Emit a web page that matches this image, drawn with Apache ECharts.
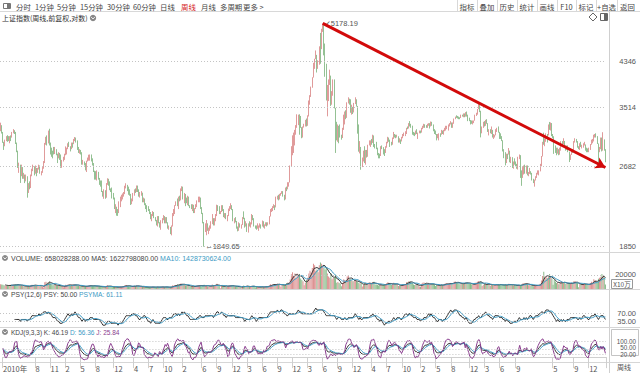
<!DOCTYPE html>
<html><head><meta charset="utf-8">
<script src="https://cdn.jsdelivr.net/npm/echarts@6/dist/echarts.min.js"></script>
<style>html,body{margin:0;padding:0;background:#fff;}#c{width:640px;height:373px;}</style>
</head><body><div id="c"></div>
<script>
// ---------------- DATA ----------------
const firstWeek = '2010-01-15';
const closedWeeks = ['2010-02-19','2011-10-07','2012-01-27','2012-10-05','2013-02-15','2016-02-12','2016-10-07','2017-10-06','2018-10-05','2019-02-08','2020-01-31'];
const firstOpen = 3196;
const closes = [
3224,3128,2989,2939,3018,3051,3031,3014,3067,3059,3129,3140,3130,2979,2870,2688,2697,2584,2656,2553,2569,2514,2553,2382,2470,2424,2572,2638,2672,2598,2642,2611,2655,2675,2598,2610,2656,2738,2971,3051,2978,3129,2985,2884,2871,2857,2836,2896,2832,2808,
2839,2791,2715,2752,2798,2827,2899,2900,2971,2938,2907,2977,2968,3030,3050,3008,2911,2865,2871,2858,2709,2728,2705,2642,2746,2759,2797,2820,2770,2701,2626,2593,2534,2612,2528,2497,2482,2391,2359,2383,2318,2473,2528,2481,2416,2397,2361,2315,2224,2224,2199,
2163,2244,2319,2330,2351,2357,2439,2460,2421,2404,2349,2263,2302,2359,2406,2396,2452,2394,2344,2370,2373,2281,2306,2260,2225,2223,2185,2168,2128,2133,2169,2115,2093,2047,2128,2071,2027,2086,2104,2128,2067,2117,2069,2015,2026,1980,2033,2151,2167,2233,
2276,2243,2317,2292,2419,2432,2314,2359,2318,2278,2328,2237,2225,2206,2244,2177,2205,2246,2283,2288,2301,2211,2162,2073,1979,2007,2040,1992,2010,2029,2052,2085,2057,2098,2139,2236,2191,2160,2174,2228,2193,2133,2149,2106,2135,2196,2220,2237,2196,2085,2101,
2083,2013,2004,2054,2033,2044,2115,2113,2056,2057,2004,2047,2046,2058,2131,2098,2036,2026,2011,2026,2034,2039,2030,2070,2024,2036,2060,2047,2059,2126,2185,2194,2226,2240,2217,2326,2331,2329,2347,2364,2382,2341,2302,2420,2418,2478,2487,2683,2938,2938,3108,3158,
3235,3285,3376,3351,3210,3076,3204,3247,3310,3241,3372,3617,3691,3863,4034,4287,4393,4441,4205,4308,4657,4611,5023,5166,4478,4193,3687,3878,3957,4071,3664,3745,3965,3508,3232,3160,3200,3097,3092,3053,3183,3391,3412,3383,3590,3632,3630,3436,3525,3435,3578,3627,
3539,3186,2901,2916,2738,2763,2860,2767,2874,2811,2955,2980,3009,2985,3078,2959,2938,2913,2827,2826,2821,2938,2927,2885,2854,2932,2988,3054,3013,2979,2976,3050,3108,3070,3067,3078,3002,3033,3005,3063,3090,3104,3126,3196,3192,3262,3243,3232,3123,3110,3104,
3154,3113,3123,3159,3140,3196,3202,3253,3218,3212,3237,3269,3223,3287,3246,3173,3155,3104,3084,3090,3107,3105,3158,3123,3157,3192,3218,3222,3237,3253,3262,3208,3269,3332,3367,3365,3353,3352,3349,3391,3378,3416,3371,3433,3382,3353,3317,3289,3266,3297,3307,
3391,3428,3487,3558,3462,3129,3199,3289,3273,3307,3269,3153,3168,3131,3159,3071,3082,3091,3163,3193,3141,3075,3067,3022,2890,2847,2747,2832,2829,2874,2741,2795,2669,2730,2725,2703,2682,2798,2821,2606,2550,2599,2677,2599,2680,2580,2588,2606,2594,2516,2494,
2514,2553,2596,2601,2618,2682,2804,2994,2969,3021,3104,3090,3247,3189,3271,3086,3078,2939,2882,2853,2899,2827,2882,3001,2979,3012,2931,2924,2945,2868,2775,2824,2898,2886,2999,3031,3006,2932,2905,2973,2938,2955,2958,2964,2891,2885,2871,2912,2968,3005,3005,
3083,3092,3075,2977,2876,2917,3040,2880,3034,2887,2779];
const highs = [
3277,3239,3140,3000,3030,3080,3093,3080,3080,3090,3140,3181,3165,3140,2990,2880,2725,2700,2700,2670,2600,2580,2580,2560,2480,2500,2580,2650,2700,2680,2690,2660,2660,2700,2690,2620,2670,2745,2985,3070,3090,3160,3186,2990,2920,2880,2930,2930,2900,2840,
2860,2850,2830,2760,2800,2840,2937,2920,2980,3000,2940,2990,2990,3040,3067,3060,3020,2930,2900,2890,2860,2760,2740,2720,2750,2790,2827,2830,2830,2780,2720,2620,2620,2630,2610,2540,2510,2510,2390,2410,2400,2480,2536,2530,2500,2420,2430,2370,2320,2250,2210,
2200,2280,2330,2350,2365,2380,2450,2478,2460,2440,2410,2360,2310,2370,2410,2420,2453,2440,2410,2380,2390,2370,2320,2310,2250,2240,2230,2200,2170,2150,2180,2170,2120,2080,2130,2130,2070,2090,2110,2140,2130,2120,2120,2070,2040,2020,2040,2160,2200,2240,
2280,2310,2330,2340,2420,2444,2440,2370,2350,2320,2340,2330,2240,2250,2250,2230,2210,2250,2290,2330,2330,2320,2220,2160,2070,2060,2092,2060,2020,2040,2080,2150,2110,2110,2150,2245,2240,2230,2180,2240,2240,2200,2160,2160,2140,2205,2230,2260,2240,2200,2110,
2120,2080,2030,2070,2060,2050,2120,2177,2110,2080,2060,2060,2080,2070,2150,2140,2110,2040,2040,2060,2040,2060,2050,2087,2080,2050,2070,2070,2070,2130,2200,2210,2230,2250,2240,2330,2340,2350,2360,2370,2390,2390,2350,2430,2440,2490,2490,2690,2940,3091,3130,3170,
3240,3406,3400,3406,3380,3210,3220,3260,3320,3340,3390,3630,3720,3870,4040,4318,4400,4572,4480,4370,4660,4958,5052,5178.19,5160,4720,4300,3900,4000,4184,4000,3790,4000,4000,3400,3290,3250,3230,3250,3100,3200,3400,3450,3470,3600,3684,3660,3650,3560,3510,3590,3684,
3650,3540,3250,3010,2930,2790,2880,2940,2890,2890,2960,3020,3020,3040,3100,3090,2970,3000,2920,2850,2840,2940,2950,2920,2900,2940,3000,3070,3060,3030,3000,3060,3140,3110,3100,3100,3070,3050,3030,3070,3110,3130,3150,3200,3220,3270,3301,3260,3230,3140,3130,
3160,3180,3130,3160,3160,3200,3230,3260,3250,3240,3260,3270,3260,3295,3290,3250,3180,3160,3110,3110,3120,3120,3170,3160,3170,3200,3230,3230,3250,3270,3300,3280,3280,3340,3370,3390,3380,3370,3360,3400,3400,3420,3420,3440,3450,3400,3350,3310,3310,3310,3310,
3400,3430,3490,3587,3560,3460,3220,3290,3300,3320,3330,3270,3180,3180,3220,3170,3110,3100,3180,3200,3220,3140,3120,3080,3000,2900,2860,2840,2840,2915,2880,2800,2780,2740,2780,2740,2710,2800,2830,2730,2630,2670,2690,2700,2690,2690,2610,2660,2620,2600,2530,
2520,2560,2600,2630,2630,2710,2810,3000,3129,3050,3120,3110,3250,3288,3280,3270,3110,3000,2950,2920,2920,2900,2920,3010,3010,3050,3010,2950,2950,2950,2830,2830,2900,2900,3010,3050,3040,3010,2940,2980,3000,2960,2980,3000,2950,2920,2910,2920,2970,3030,3040,
3100,3110,3120,3080,2900,2930,3060,3060,3136,3020,2900];
const lows = [
3150,3117,2986,2890,2940,3010,3000,3010,2980,3010,3060,3120,3110,2970,2860,2660,2600,2482,2560,2530,2530,2480,2500,2319,2370,2410,2440,2560,2620,2570,2590,2560,2600,2640,2590,2570,2600,2650,2720,2960,2950,2980,2950,2830,2800,2780,2830,2850,2820,2720,
2780,2760,2661,2661,2740,2760,2820,2830,2900,2930,2870,2900,2920,2970,3010,2990,2890,2850,2840,2830,2700,2700,2690,2630,2610,2740,2750,2750,2740,2690,2610,2520,2520,2510,2520,2460,2440,2380,2330,2307,2307,2320,2460,2450,2400,2380,2310,2300,2200,2160,2134,
2132,2160,2220,2280,2300,2330,2360,2420,2390,2350,2340,2242,2250,2280,2340,2370,2380,2380,2330,2320,2340,2270,2270,2240,2200,2170,2180,2150,2100,2080,2130,2110,2080,2040,2030,2060,2020,2000,2060,2090,2060,2060,2060,2010,2000,1960,1949,2030,2130,2150,
2240,2230,2200,2280,2290,2390,2300,2260,2230,2260,2240,2230,2210,2200,2180,2160,2160,2200,2220,2270,2270,2200,2150,2060,1849.65,1980,1950,1990,1960,1990,2010,2060,2040,2040,2080,2130,2180,2150,2150,2170,2180,2120,2110,2100,2080,2130,2180,2200,2190,2080,2060,
2070,2010,1985,1990,2020,2010,2050,2100,2020,2030,1980,1974,2030,2020,2050,2090,2030,2010,2000,2010,1990,2020,2010,2030,2020,2010,2040,2030,2040,2050,2140,2170,2180,2210,2190,2220,2300,2290,2300,2340,2360,2330,2290,2300,2390,2410,2440,2500,2680,2820,2850,2950,
3100,3200,3240,3100,3200,3050,3060,3220,3220,3220,3230,3380,3560,3690,3850,4050,4200,4400,4130,4200,4280,4300,4600,4980,4470,4050,3630,3374,3620,3900,3540,3560,3710,3500,2850,3020,3000,2980,3060,3030,3080,3170,3250,3330,3350,3580,3560,3430,3400,3410,3450,3570,
3530,3115,2867,2844,2638,2670,2740,2720,2700,2790,2800,2950,2930,2960,2990,2930,2910,2900,2820,2780,2780,2810,2900,2830,2810,2850,2920,2980,3000,2930,2950,2960,3040,3060,3050,3060,2990,2990,2970,3010,3050,3080,3080,3110,3180,3190,3220,3200,3100,3090,3080,
3100,3110,3040,3120,3120,3130,3180,3200,3200,3200,3200,3230,3190,3220,3230,3150,3110,3100,3020,3050,3020,3070,3100,3110,3100,3150,3160,3180,3160,3220,3250,3200,3200,3260,3330,3350,3340,3330,3330,3350,3370,3360,3360,3370,3370,3300,3300,3250,3260,3250,3270,
3310,3380,3400,3500,3440,3062,3120,3220,3220,3230,3260,3140,3090,3120,3110,3060,3040,3060,3100,3140,3130,3040,3040,3010,2870,2782,2691,2720,2770,2840,2730,2720,2660,2650,2700,2680,2650,2640,2770,2540,2449,2540,2580,2590,2590,2570,2560,2590,2580,2510,2480,
2440,2510,2540,2580,2570,2620,2680,2810,2960,2940,3000,2990,3100,3170,3160,3080,3050,2838,2850,2820,2840,2820,2830,2880,2960,2970,2920,2880,2890,2860,2733,2760,2840,2850,2890,2990,2990,2920,2900,2890,2930,2910,2920,2950,2880,2860,2860,2860,2890,2960,2980,
3040,3060,3060,2970,2685,2860,2900,2870,2900,2880,2730];
// weekly volume, unit: 10万手 (x10万)
const volumes = [
6800,6500,6000,5200,4800,4600,5400,5000,5600,5200,5800,6200,5900,6300,5600,6400,5800,5000,4900,4300,4000,3900,3700,4100,3900,3800,5400,6000,5800,5200,5000,4400,4900,5600,5000,3900,2800,2200,9500,10500,9000,9800,10200,7800,6600,5400,6200,5600,5000,4400,
4800,4600,4200,3800,2400,3900,6200,5600,6800,6000,4800,5600,5200,6600,6400,5600,4800,4400,4200,3800,4300,3600,3300,3500,4200,4800,5000,5200,4600,4200,4400,4800,3800,4000,3500,3400,3100,3300,2900,3400,3000,4600,5200,4200,3400,2800,3000,2900,3300,2600,2200,
2400,3200,3600,3300,3400,4000,5400,5600,4300,4000,3500,3800,2800,4200,4600,4200,5200,4000,3600,3200,3400,3100,2900,2500,2700,3000,2800,2600,2500,2700,3200,2800,2400,2600,3100,3000,2400,2700,3100,3300,2700,2900,2700,2400,2300,2800,3200,5200,4800,5600,
5200,6400,6000,6800,7800,6400,6600,6000,5400,4600,4600,5000,2800,4000,4400,3600,2800,4400,5200,5600,5400,4400,3400,4600,6000,4600,5000,4000,3600,3800,4600,6400,5200,4800,5600,7600,5000,4400,1200,5400,5200,4200,3800,3500,3800,5000,5200,5000,4200,4600,3400,
3600,3800,3200,3400,2600,900,4400,5000,4400,3600,3500,3400,3600,3200,4600,4400,3400,2400,2800,3000,2900,3200,2800,3600,3000,2900,3400,3300,3600,5400,6800,6200,6400,6600,5400,7200,7400,6800,7000,3200,6400,6600,5400,7000,8600,9400,8800,13600,21000,24000,19000,22000,
15000,22000,20000,21000,15000,13000,11000,5200,9000,13000,16000,22000,26000,24000,30000,36000,34000,26000,28000,24000,34000,38000,36000,32000,30000,28000,30000,22000,18000,16000,22000,14000,16000,16000,20000,9000,10000,8400,7800,4000,8400,14000,13000,12000,18000,20000,14000,14000,12000,11000,11500,12500,
11000,10000,8600,7800,8800,3600,6200,8600,8400,6400,8800,8800,8400,7600,9800,10200,6400,6600,6000,5000,5200,7200,5000,5800,6400,6400,8400,9600,8400,6800,5800,7000,8800,7600,6000,6400,4400,4800,4400,6000,7200,7200,6800,9600,9800,11200,11000,9200,8400,6400,5800,
6200,6000,5400,3400,2800,7600,8800,9400,7800,7200,7000,8000,6400,7400,7200,7000,5800,4400,5800,5400,5400,5200,6400,5800,6200,7400,8400,7800,7200,7600,8600,8000,8000,10200,10800,9600,8600,7800,6800,8000,7800,8000,8600,9400,9400,8000,7600,7200,6800,6200,5800,
8800,9400,10400,11400,9800,10400,4400,6200,7000,7600,6800,7000,6800,4600,6600,6600,5400,4600,6800,6400,6800,5800,6200,5200,5600,6000,6400,5600,5800,7600,6400,6200,5600,5200,5800,4600,4600,6000,5200,4800,6400,7800,8400,8000,7400,6800,5200,6000,5000,4600,4000,
5400,5200,5800,5200,5000,7400,12000,18600,24800,18000,17200,15800,17000,21600,17400,15400,6200,13000,10600,8600,8600,6800,8200,11400,10000,9600,8400,7200,7400,8400,8400,7600,8600,7800,11400,11200,9200,8400,2600,8000,7000,6400,7400,7600,7000,6200,6000,6400,8600,10400,9200,
13800,12400,10200,8600,14600,15930,17600,21400,18800,16760,6580];

const priceTicks = [4346, 3514, 2682, 1850];
const volTicks = [20000];
const psyTicks = [70, 35];
const kdjTicks = [100, 50, 20];
const firstLabel = '2010年';
const monthTicks = ['2010-08','2010-11','2011-02','2011-05','2011-08','2011-12','2012-04','2012-07','2012-10','2013-02','2013-06','2013-09','2013-12','2014-03','2014-06','2014-09','2014-12','2015-03','2015-06','2015-09','2015-12','2016-04','2016-07','2016-10','2017-02','2017-05','2017-08','2017-12','2018-03','2018-06','2018-09','2019-05','2019-09','2019-12'];
const peakValue = 5178.19, lowValue = 1849.65, trendEndValue = 2665;
const titleMain = '上证指数(周线,前复权,对数)';
const volHeader = ['VOLUME: 658028288.00', 'MA5: 1622798080.00', 'MA10: 1428730624.00'];
const psyHeader = ['PSY(12,6)', 'PSY: 50.00', 'PSYMA: 61.11'];
const kdjHeader = ['KDJ(9,3,3)', 'K: 46.19', 'D: 56.36', 'J: 25.84'];
const toolLeft = ['分时','1分钟','5分钟','15分钟','30分钟','60分钟','日线','周线','月线','多周期','更多 >'];
const toolRight = ['指标','叠加','历史','统计','画线','F10','标记','+自选','返回'];

// ---------------- BUILD ----------------
const N = closes.length;
const dates = [];
{ let t = Date.parse(firstWeek + 'T00:00:00Z');
  while (dates.length < N) { const s = new Date(t).toISOString().slice(0,10); if (closedWeeks.indexOf(s) < 0) dates.push(s); t += 7*86400000; } }
const opens = closes.map((c,i) => i ? closes[i-1] : firstOpen);
const hi = highs.map((h,i) => Math.max(h, opens[i], closes[i]));
const lo = lows.map((l,i) => Math.min(l, opens[i], closes[i]));
const candle = closes.map((c,i) => [opens[i], c, lo[i], hi[i]]);
const UP = '#dc9090', DOWN = '#88ba88';
const volData = volumes.map((v,i) => ({value: v, itemStyle: {color: closes[i] >= opens[i] ? UP : DOWN}}));
function ma(arr, n){ return arr.map((v,i)=>{ if(i<n-1) return '-'; let s=0; for(let j=i-n+1;j<=i;j++) s+=arr[j]; return s/n; }); }
const volMA5 = ma(volumes,5), volMA10 = ma(volumes,10);
const psy = closes.map((c,i)=>{ if(i<12) return '-'; let n=0; for(let j=i-11;j<=i;j++) if(closes[j]>closes[j-1]) n++; return n/12*100; });
const psyMA = psy.map((v,i)=>{ if(i<17) return '-'; let s=0; for(let j=i-5;j<=i;j++) s+=psy[j]; return s/6; });
const K=[],D=[],J=[]; { let k=50,d=50; for(let i=0;i<N;i++){ let h=-1e9,l=1e9; for(let j=Math.max(0,i-8);j<=i;j++){ h=Math.max(h,hi[j]); l=Math.min(l,lo[j]); } const rsv = h===l?50:(closes[i]-l)/(h-l)*100; k=(2*k+rsv)/3; d=(2*d+k)/3; K.push(k); D.push(d); J.push(3*k-2*d); } }
let peakIdx = 0, lowIdx = 0; hi.forEach((h,i)=>{ if(h>hi[peakIdx]) peakIdx=i; }); lo.forEach((l,i)=>{ if(l<lo[lowIdx]) lowIdx=i; });
const labelIdx = new Set([0]);
monthTicks.forEach(m => { const i = dates.findIndex(d => d.slice(0,7) === m); if (i >= 0) labelIdx.add(i); });

const FONT = '"Liberation Sans", Arial, sans-serif';
const CJK = '"Noto Sans CJK SC", sans-serif';
const GRID_L = 0, GRID_W = 606;
const grids = [
  {left: GRID_L, width: GRID_W, top: 12, height: 240},
  {left: GRID_L, width: GRID_W, top: 262, height: 27},
  {left: GRID_L, width: GRID_W, top: 300, height: 27},
  {left: GRID_L, width: GRID_W, top: 336, height: 26}
];
const xAxes = grids.map((g,gi)=>({
  type:'category', gridIndex: gi, data: dates, boundaryGap: true,
  axisLine: {show: gi===3, lineStyle:{color:'#cfcfcf'}},
  axisTick: gi===3 ? {show:true, interval:(i)=>labelIdx.has(i), length: 11, lineStyle:{color:'#cfcfcf'}} : {show:false},
  axisLabel: gi===3 ? {show:true, interval:(i)=>labelIdx.has(i), formatter:(v,i)=> i===0 ? firstLabel : String(+v.slice(5,7)), align:'left', margin: 3, fontSize: 7.5, color:'#555', fontFamily: CJK} : {show:false},
  splitLine:{show:false}
}));
const dotted = {type:[1,2], color:'#c4c4c4', width:1};
function gridLines(vals){ return {silent:true, symbol:['none','none'], label:{show:false}, lineStyle: dotted, data: vals.map(v=>({yAxis:v}))}; }
const yAxes = [
  {type:'log', gridIndex:0, min:1805, max:5459, show:false},
  {type:'value', gridIndex:1, min:0, max:38571, show:false},
  {type:'value', gridIndex:2, min:8.75, max:126.9, show:false},
  {type:'value', gridIndex:3, min:-31.2, max:135.2, show:false}
];
const line = (name, data, xi, color) => ({type:'line', name, data, xAxisIndex:xi, yAxisIndex:xi, symbol:'none', lineStyle:{width:1, color}, silent:true});
const series = [
  {type:'candlestick', data: candle, xAxisIndex:0, yAxisIndex:0, barWidth: 0.5,
   itemStyle:{color:UP, color0:DOWN, borderColor:UP, borderColor0:DOWN, borderWidth:0.9},
   markLine: {silent:true, symbol:['none','none'], label:{show:false}, animation:false,
     data: priceTicks.map(v=>({yAxis:v, lineStyle: dotted})).concat([[
       {coord:[dates[peakIdx], peakValue], symbol:'none'},
       {coord:[dates[N-1], trendEndValue], symbol:'arrow', symbolSize:[9,10], lineStyle:{color:'#d20a0a', width:3, type:'solid'}}
     ]])}
  },
  {type:'bar', data: volData, xAxisIndex:1, yAxisIndex:1, barWidth: 0.8, silent:true, markLine: gridLines(volTicks)},
  line('MA5', volMA5, 1, '#333'),
  line('MA10', volMA10, 1, '#3d9ac4'),
  Object.assign(line('PSY', psy, 2, '#333'), {markLine: gridLines(psyTicks)}),
  line('PSYMA', psyMA, 2, '#3d9ac4'),
  Object.assign(line('K', K, 3, '#333'), {markLine: gridLines(kdjTicks)}),
  line('D', D, 3, '#3d9ac4'),
  line('J', J, 3, '#8a3d8e')
];
const chart = echarts.init(document.getElementById('c'), null, {renderer:'svg', width:640, height:373});
chart.setOption({animation:false, backgroundColor:'#fff', grid: grids, xAxis: xAxes, yAxis: yAxes, series});

// ------------- overlay text / frame (positions from the library's scales) -------------
const G = [];
const txt = (x,y,text,opt={}) => G.push({type:'text', x, y, silent:true, style:Object.assign({text, fill:'#444', font:'7px '+CJK, textAlign:'left', textVerticalAlign:'middle'}, opt)});
const ln = (x1,y1,x2,y2,c='#d0d0d0') => G.push({type:'line', silent:true, shape:{x1,y1,x2,y2}, style:{stroke:c, lineWidth:1}});
// toolbar
ln(0,11.5,640,11.5,'#d8d8d8');
G.push({type:'rect', shape:{x:3.5,y:3.5,width:7,height:5}, style:{fill:'none', stroke:'#777'}});
G.push({type:'rect', shape:{x:7,y:4,width:3,height:4}, style:{fill:'#777'}});
const tlx = [16,35,57,80,107,133,160,181,201,220,243];
toolLeft.forEach((t,i)=>txt(tlx[i],6,t,{fill: t==='周线' ? '#d42020' : '#444', font:'7.4px '+CJK}));
const trb = [457,477,497,517,537,557,576,596,617,638];
toolRight.forEach((t,i)=>{ ln(trb[i]+0.5,0,trb[i]+0.5,11,'#d8d8d8'); txt((trb[i]+trb[i+1])/2,6,t,{textAlign:'center', font:'7.4px '+CJK}); });
// main title
txt(2,18,titleMain,{fill:'#333', font:'7px '+CJK});
G.push({type:'circle', shape:{cx:93,cy:18,r:3.2}, style:{fill:'#888'}});
G.push({type:'polyline', shape:{points:[[91.3,17.2],[93,18.9],[94.7,17.2]]}, style:{stroke:'#fff', lineWidth:1, fill:'none'}});
// top-right icons
G.push({type:'polygon', shape:{points:[[593,13],[597,17],[593,21],[589,17]]}, style:{fill:'none', stroke:'#666'}});
G.push({type:'rect', shape:{x:600.5,y:13.5,width:7,height:7}, style:{fill:'none', stroke:'#666'}});
G.push({type:'rect', shape:{x:604,y:14,width:3,height:6}, style:{fill:'#666'}});
// frame lines
ln(609.5,12,609.5,373,'#cfcfcf');
[252.5,289.5,327.5,362.5].forEach(y=>ln(0,y,640,y,'#d6d6d6'));
// right axis labels from the axes' own scales
const yPix = (ai,v) => chart.convertToPixel({yAxisIndex:ai}, v);
const AX = {textAlign:'right', fill:'#555', font:'7.5px '+FONT};
priceTicks.forEach(v=>txt(636,yPix(0,v),String(v),AX));
volTicks.forEach(v=>txt(636,yPix(1,v),String(v),AX));
psyTicks.forEach(v=>txt(636,yPix(2,v),v.toFixed(2),AX));
G.push({type:'rect', shape:{x:611.5,y:329.5,width:27,height:26}, style:{fill:'none', stroke:'#c4c4c4'}});
{ const yTop = yPix(3,kdjTicks[0]), yBot = yPix(3,kdjTicks[2]);
  txt(636,yTop,kdjTicks[0].toFixed(2),Object.assign({},AX,{font:'6.3px '+FONT}));
  txt(636,(yTop+yBot)/2,kdjTicks[1].toFixed(2),Object.assign({},AX,{font:'6.3px '+FONT}));
  txt(636,yBot+0.8,kdjTicks[2].toFixed(2),Object.assign({},AX,{font:'6.3px '+FONT})); }
G.push({type:'rect', shape:{x:611.5,y:279.5,width:21,height:9}, style:{fill:'none', stroke:'#999'}});
txt(622,284,'X10万',{textAlign:'center', fill:'#555', font:'6.5px '+CJK});
txt(624,367,'周线',{textAlign:'center', fill:'#555', font:'7px '+CJK});
// peak / low annotations
const pk = chart.convertToPixel({xAxisIndex:0, yAxisIndex:0}, [dates[peakIdx], peakValue]);
const lw = chart.convertToPixel({xAxisIndex:0, yAxisIndex:0}, [dates[lowIdx], lowValue]);
txt(pk[0]+1, pk[1], '↙'+peakValue.toFixed(2), {fill:'#555', font:'7.5px '+FONT});
txt(lw[0]+1, lw[1], '←'+lowValue.toFixed(2), {fill:'#555', font:'7.5px '+FONT});
// panel headers
function headerRow(y, parts, colors, size){
  G.push({type:'circle', shape:{cx:5,cy:y,r:3}, style:{fill:'#888'}});
  G.push({type:'polyline', shape:{points:[[3.4,y-0.7],[5,y+0.9],[6.6,y-0.7]]}, style:{stroke:'#fff', lineWidth:1, fill:'none'}});
  const rich = {}; let text = '';
  parts.forEach((p,i)=>{ rich['s'+i] = {fill:colors[i], fontSize:size, fontFamily:FONT}; text += '{s'+i+'|'+p+'}' + (i<parts.length-1?'{s'+i+'| }':''); });
  G.push({type:'text', x:11, y, silent:true, style:{text, rich, textVerticalAlign:'middle', font:size+'px '+FONT}});
}
headerRow(258, volHeader, ['#444','#444','#3d9ac4'], 7);
headerRow(294, psyHeader, ['#444','#444','#3d9ac4'], 6.7);
headerRow(332, kdjHeader, ['#444','#444','#3d9ac4','#8a3d8e'], 6.5);
chart.setOption({graphic: {elements: G}});
</script></body></html>
